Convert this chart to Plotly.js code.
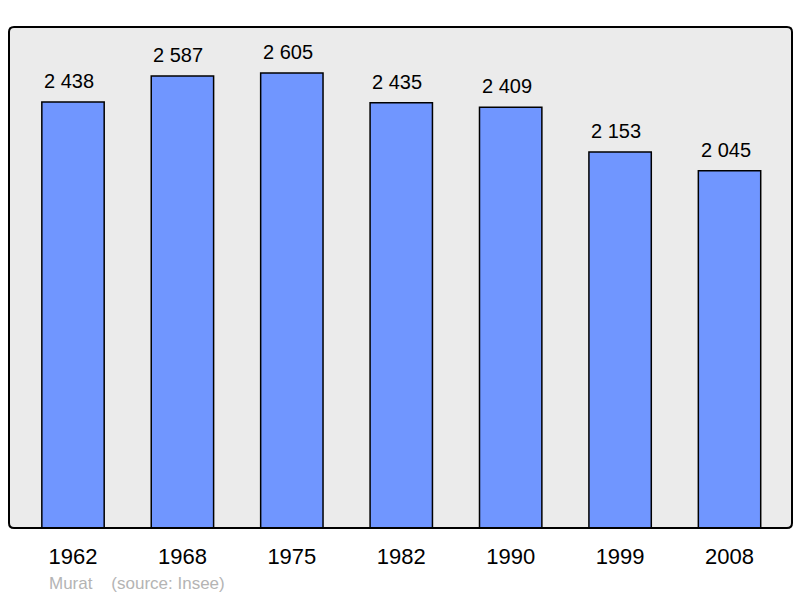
<!DOCTYPE html>
<html>
<head>
<meta charset="utf-8">
<script src="https://cdn.plot.ly/plotly-3.0.1.min.js"></script>
<style>html,body{margin:0;padding:0;background:#fff;}#chart{width:800px;height:598px;}</style>
</head>
<body>
<div id="chart"></div>
<script>
const years = ["1962", "1968", "1975", "1982", "1990", "1999", "2008"];
const population = [2438, 2587, 2605, 2435, 2409, 2153, 2045];
const valueLabels = ["2 438", "2 587", "2 605", "2 435", "2 409", "2 153", "2 045"];
const townName = "Murat";
const sourceText = "(source: Insee)";

const font = "Liberation Sans, Arial, sans-serif";

const trace = {
  type: "bar",
  x: years,
  y: population,
  width: 0.57,
  marker: { color: "#7096FF", line: { color: "#000000", width: 1.5 } },
  hoverinfo: "none"
};

const annotations = years.map((yr, i) => ({
  x: i, y: population[i], xref: "x", yref: "y",
  text: valueLabels[i], showarrow: false,
  yanchor: "bottom", yshift: 8, xshift: -4,
  font: { family: font, size: 20, color: "#000000" }
}));
annotations.push({
  xref: "paper", yref: "paper", x: 0.048, y: -0.11, xanchor: "left", yanchor: "middle",
  text: townName + "    " + sourceText, showarrow: false,
  font: { family: font, size: 17, color: "#B4B4B4" }
});

// rounded frame around the plot area (paper coordinates)
const rx = 5 / 783, ry = 5 / 501;
const framePath = "M " + rx + " 0 L " + (1 - rx) + " 0 Q 1 0 1 " + ry +
  " L 1 " + (1 - ry) + " Q 1 1 " + (1 - rx) + " 1 L " + rx + " 1 Q 0 1 0 " + (1 - ry) +
  " L 0 " + ry + " Q 0 0 " + rx + " 0 Z";

const layout = {
  width: 800, height: 598,
  margin: { l: 9, r: 8, t: 27, b: 70 },
  paper_bgcolor: "#FFFFFF",
  plot_bgcolor: "#EBEBEB",
  showlegend: false,
  xaxis: {
    type: "category", range: [-0.585, 6.571],
    showgrid: false, zeroline: false, showline: false, ticks: "",
    ticklabelstandoff: 13,
    tickfont: { family: font, size: 22, color: "#000000" }
  },
  yaxis: {
    range: [0, 2868], showgrid: false, zeroline: false, showline: false,
    showticklabels: false, ticks: ""
  },
  shapes: [{
    type: "path", xref: "paper", yref: "paper", path: framePath,
    line: { color: "#000000", width: 2 }, fillcolor: "rgba(0,0,0,0)", layer: "above"
  }],
  annotations: annotations
};

Plotly.newPlot("chart", [trace], layout, { staticPlot: true, displayModeBar: false });
</script>
</body>
</html>
